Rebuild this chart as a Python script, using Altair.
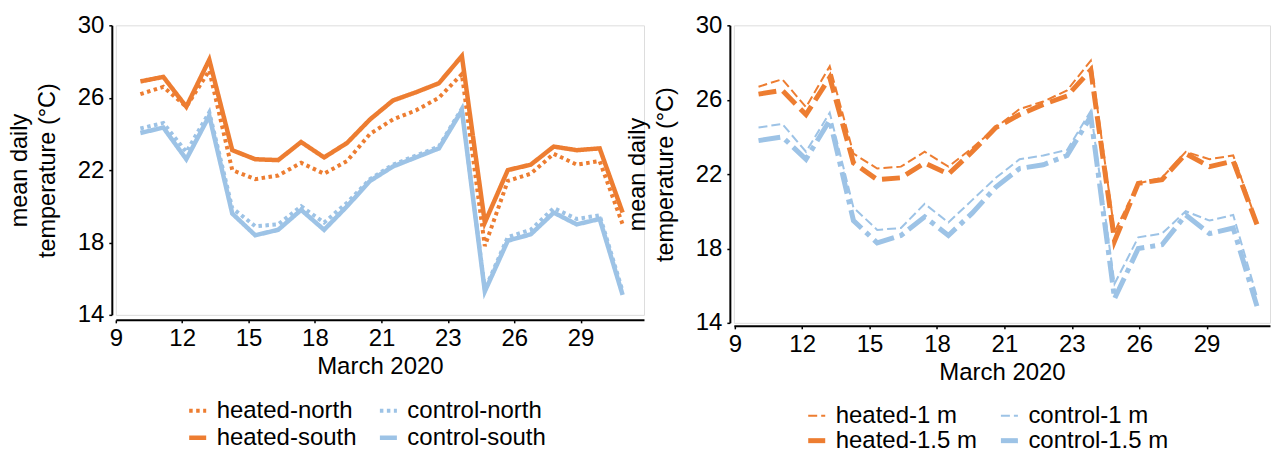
import altair as alt
import pandas as pd

# ---------------- data ----------------
days = list(range(10, 32))

# left panel (north / south)
heated_north = [26.2, 26.6, 25.5, 27.5, 22.0, 21.5, 21.7, 22.4, 21.8, 22.5, 24.0,
                24.8, 25.3, 26.0, 27.3, 17.8, 21.4, 21.8, 22.9, 22.3, 22.5, 19.0]
heated_south = [26.9, 27.15, 25.5, 28.1, 23.1, 22.6, 22.55, 23.55, 22.7, 23.5, 24.8,
                25.85, 26.3, 26.8, 28.3, 19.1, 22.0, 22.3, 23.3, 23.1, 23.2, 19.65]
control_north = [24.3, 24.6, 23.0, 25.2, 19.9, 18.9, 19.0, 20.0, 19.1, 20.2, 21.5,
                 22.3, 22.8, 23.3, 25.4, 15.4, 18.3, 18.7, 19.9, 19.3, 19.5, 15.3]
control_south = [24.05, 24.35, 22.6, 25.0, 19.6, 18.4, 18.7, 19.8, 18.7, 20.0, 21.4,
                 22.2, 22.7, 23.2, 25.3, 15.3, 18.1, 18.45, 19.65, 19.0, 19.3, 15.1]

# right panel (depth)
heated_1m = [26.7, 27.1, 25.6, 27.8, 23.1, 22.3, 22.4, 23.2, 22.4, 23.4, 24.5,
             25.5, 25.9, 26.5, 28.1, 18.9, 21.5, 21.8, 23.2, 22.8, 23.0, 19.4]
heated_15m = [26.3, 26.5, 25.2, 27.2, 22.6, 21.7, 21.8, 22.6, 22.0, 23.2, 24.5,
              25.2, 25.75, 26.2, 27.6, 18.4, 21.5, 21.7, 23.1, 22.4, 22.7, 19.3]
control_1m = [24.5, 24.7, 23.2, 25.3, 20.2, 19.0, 19.1, 20.4, 19.4, 20.6, 21.8,
              22.8, 23.0, 23.3, 25.4, 16.1, 18.6, 18.8, 20.0, 19.5, 19.8, 15.4]
control_15m = [23.8, 24.0, 22.8, 24.9, 19.5, 18.3, 18.7, 19.7, 18.7, 19.9, 21.3,
               22.3, 22.5, 23.0, 25.1, 15.3, 18.0, 18.2, 19.8, 18.8, 19.1, 14.9]

y_ticks = [14, 18, 22, 26, 30]
x_tick_labels = ["9", "12", "15", "18", "21", "23", "26", "29"]
left_x_ticks = [8.93, 11.82, 14.71, 17.6, 20.5, 23.39, 26.28, 29.17]
right_x_ticks = [9.0, 11.84, 14.68, 17.52, 20.36, 23.2, 26.04, 28.88]

# legend order (column-major): col 1 = heated, col 2 = control
left_names = ["heated-north", "heated-south", "control-north", "control-south"]
right_names = ["heated-1 m", "heated-1.5 m", "control-1 m", "control-1.5 m"]

ORANGE = "#ED7D31"
BLUE = "#9DC3E6"
FONT = "Liberation Sans"


def long_df(pairs):
    rows = []
    for name, vals in pairs:
        for d, v in zip(days, vals):
            rows.append({"day": d, "temp": v, "series": name})
    return pd.DataFrame(rows)


# drawing order: control lines first, heated on top
df_left = long_df([("control-south", control_south), ("control-north", control_north),
                   ("heated-south", heated_south), ("heated-north", heated_north)])
df_right = long_df([("control-1.5 m", control_15m), ("control-1 m", control_1m),
                    ("heated-1.5 m", heated_15m), ("heated-1 m", heated_1m)])


def label_expr(vals, labels):
    expr = f"'{labels[-1]}'"
    for i in range(len(vals) - 2, -1, -1):
        mid = (vals[i] + vals[i + 1]) / 2
        expr = f"datum.value < {mid:.3f} ? '{labels[i]}' : " + expr
    return expr


def panel(df, names, colors, dashes, widths, xdomain, xticks, width, height,
          x_offset, legend_x, legend_y, row_pad):
    leg = alt.Legend(orient="none", legendX=legend_x, legendY=legend_y, columns=2,
                     columnPadding=13, rowPadding=row_pad, labelFontSize=24,
                     labelFont=FONT, labelColor="black", symbolSize=290,
                     labelOffset=7, title=None)
    xaxis = alt.Axis(values=xticks, labelExpr=label_expr(xticks, x_tick_labels),
                     title="March 2020", offset=x_offset, grid=False,
                     domainColor="black", domainWidth=2, tickColor="black",
                     tickSize=3, tickWidth=1.5, labelFontSize=24, titleFontSize=24,
                     titleFontWeight="normal", labelPadding=4, titlePadding=4,
                     labelFlush=False, labelOverlap=False)
    yaxis = alt.Axis(values=y_ticks, title=["mean daily", "temperature (°C)"],
                     offset=4, grid=False, domainColor="black", domainWidth=2,
                     tickColor="black", tickSize=3, tickWidth=1.5, labelFontSize=24,
                     titleFontSize=23.5, titleFontWeight="normal", titlePadding=18,
                     labelPadding=5, titleLineHeight=27.5, labelOverlap=False)
    return alt.Chart(df).mark_line(clip=False).encode(
        x=alt.X("day:Q", scale=alt.Scale(domain=xdomain, nice=False, zero=False), axis=xaxis),
        y=alt.Y("temp:Q", scale=alt.Scale(domain=[14, 30], nice=False, zero=False), axis=yaxis),
        color=alt.Color("series:N", scale=alt.Scale(domain=names, range=colors),
                        legend=leg, title=None),
        strokeDash=alt.StrokeDash("series:N", scale=alt.Scale(domain=names, range=dashes),
                                  legend=leg, title=None),
        strokeWidth=alt.StrokeWidth("series:N",
                                    scale=alt.Scale(type="ordinal", domain=names, range=widths),
                                    legend=leg, title=None),
    ).properties(width=width, height=height)


left = panel(df_left, left_names,
             [ORANGE, ORANGE, BLUE, BLUE],
             [[3.5, 3.5], [1, 0], [3.5, 3.5], [1, 0]],
             [4, 4.5, 4, 4.5],
             [8.93, 31.93], left_x_ticks, 529, 290, 5, 70, 374, 3)

right = panel(df_right, right_names,
              [ORANGE, ORANGE, BLUE, BLUE],
              [[9, 4], [18, 7], [9, 4], [22, 6, 5, 6]],
              [2, 5, 2, 5],
              [8.96, 31.55], right_x_ticks, 537, 298, 3, 71, 379, 1)

chart = alt.hconcat(left, right, spacing=90).properties(
    bounds="flush",
    padding={"left": 7, "top": 12, "right": 0, "bottom": 0},
).resolve_scale(
    x="independent", y="independent", color="independent",
    strokeDash="independent", strokeWidth="independent",
).resolve_legend(
    color="independent", strokeDash="independent", strokeWidth="independent",
).configure_axis(
    labelFont=FONT, titleFont=FONT, labelColor="black", titleColor="black",
).configure_view(strokeWidth=0).configure(background="white")

chart.save("out.html", embed_options={"renderer": "svg", "actions": False})
